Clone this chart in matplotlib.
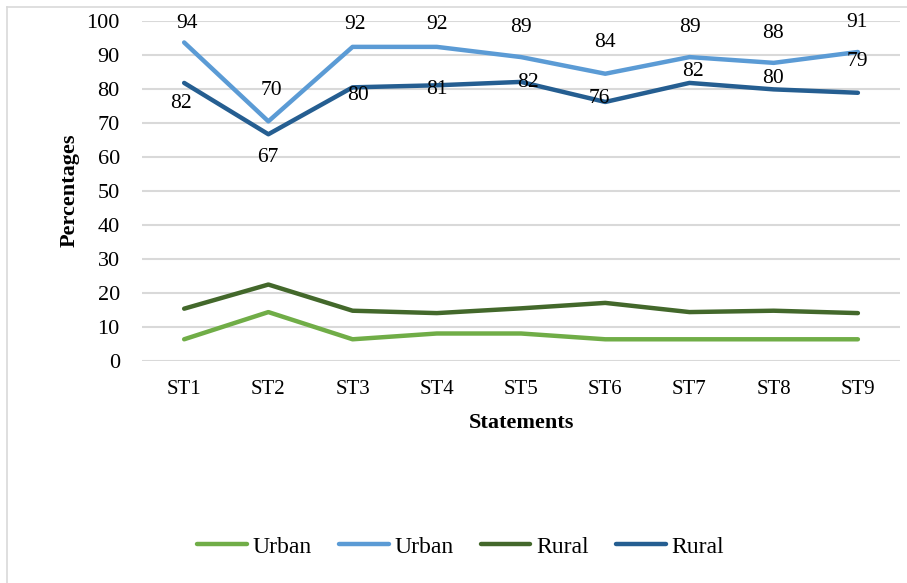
import numpy as np
import matplotlib
matplotlib.use("Agg")
import matplotlib.pyplot as plt
from matplotlib.lines import Line2D

plt.rcParams['font.family'] = ['Liberation Serif', 'DejaVu Serif']

# data
statements = ['ST1', 'ST2', 'ST3', 'ST4', 'ST5', 'ST6', 'ST7', 'ST8', 'ST9']
urban_low = [6.3, 14.3, 6.3, 8.0, 8.0, 6.3, 6.3, 6.3, 6.3]
urban_high = [93.6, 70.4, 92.3, 92.3, 89.3, 84.4, 89.3, 87.6, 90.8]
rural_low = [15.3, 22.4, 14.7, 14.0, 15.4, 17.0, 14.3, 14.7, 14.0]
rural_high = [81.7, 66.6, 80.4, 81.0, 82.0, 76.1, 81.7, 79.8, 78.8]
urban_high_labels = [94, 70, 92, 92, 89, 84, 89, 88, 91]
rural_high_labels = [82, 67, 80, 81, 82, 76, 82, 80, 79]

# label offsets in pixels
uh_off = [(3, 19), (3, 31), (2, 22), (0, 22), (0, 30), (0, 31), (0, 30), (-1, 29), (-1, 29)]
rh_off = [(-3, -21), (-1, -23), (5, -8), (0, -4), (7, -1), (-6, 3), (3, 11), (-1, 11), (-1, 31)]

fig = plt.figure(figsize=(9.07, 5.83), dpi=100)
ax = fig.add_axes([0.1566, 0.3813, 0.8357, 0.5832])

x = np.arange(1, len(statements) + 1)
c_lg, c_lb, c_dg, c_db = '#70AD47', '#5B9BD5', '#43682B', '#255E91'
lw = 3.2
ax.plot(x, urban_low, color=c_lg, lw=lw, solid_capstyle='round', label='Urban')
ax.plot(x, urban_high, color=c_lb, lw=lw, solid_capstyle='round', label='Urban')
ax.plot(x, rural_low, color=c_dg, lw=lw, solid_capstyle='round', label='Rural')
ax.plot(x, rural_high, color=c_db, lw=lw, solid_capstyle='round', label='Rural')

for i in range(len(x)):
    ax.annotate(str(urban_high_labels[i]), (x[i], urban_high[i]), xytext=uh_off[i],
                textcoords='offset pixels', ha='center', va='center', fontsize=15.5)
    ax.annotate(str(rural_high_labels[i]), (x[i], rural_high[i]), xytext=rh_off[i],
                textcoords='offset pixels', ha='center', va='center', fontsize=15.5)

ax.set_xlim(0.5, len(statements) + 0.5)
ax.set_ylim(0, 100)
ax.set_yticks(np.arange(0, 101, 10))
ax.set_xticks(x)
ax.set_xticklabels(statements)
ax.tick_params(axis='y', length=0, pad=16, labelsize=16)
ax.tick_params(axis='x', length=0, pad=14, labelsize=15)
ax.grid(axis='y', color='#d9d9d9', lw=1.5)
ax.set_axisbelow(True)
for s in ax.spines.values():
    s.set_visible(False)

ax.set_ylabel('Percentages', fontsize=16, fontweight='bold', labelpad=5)
ax.set_xlabel('Statements', fontsize=16, fontweight='bold', labelpad=10)

fig.legend(loc='center', bbox_to_anchor=(0.508, 0.062), ncol=4, frameon=False,
           fontsize=17, handlelength=2.1, handletextpad=0.25, columnspacing=1.15)

# chart area border (left and top)
fig.add_artist(Line2D([7 / 907, 7 / 907], [0, 1 - 7 / 583], color='#d9d9d9', lw=1.2))
fig.add_artist(Line2D([7 / 907, 1], [1 - 7 / 583, 1 - 7 / 583], color='#d9d9d9', lw=1.2))

fig.savefig('out.png', dpi=100)
